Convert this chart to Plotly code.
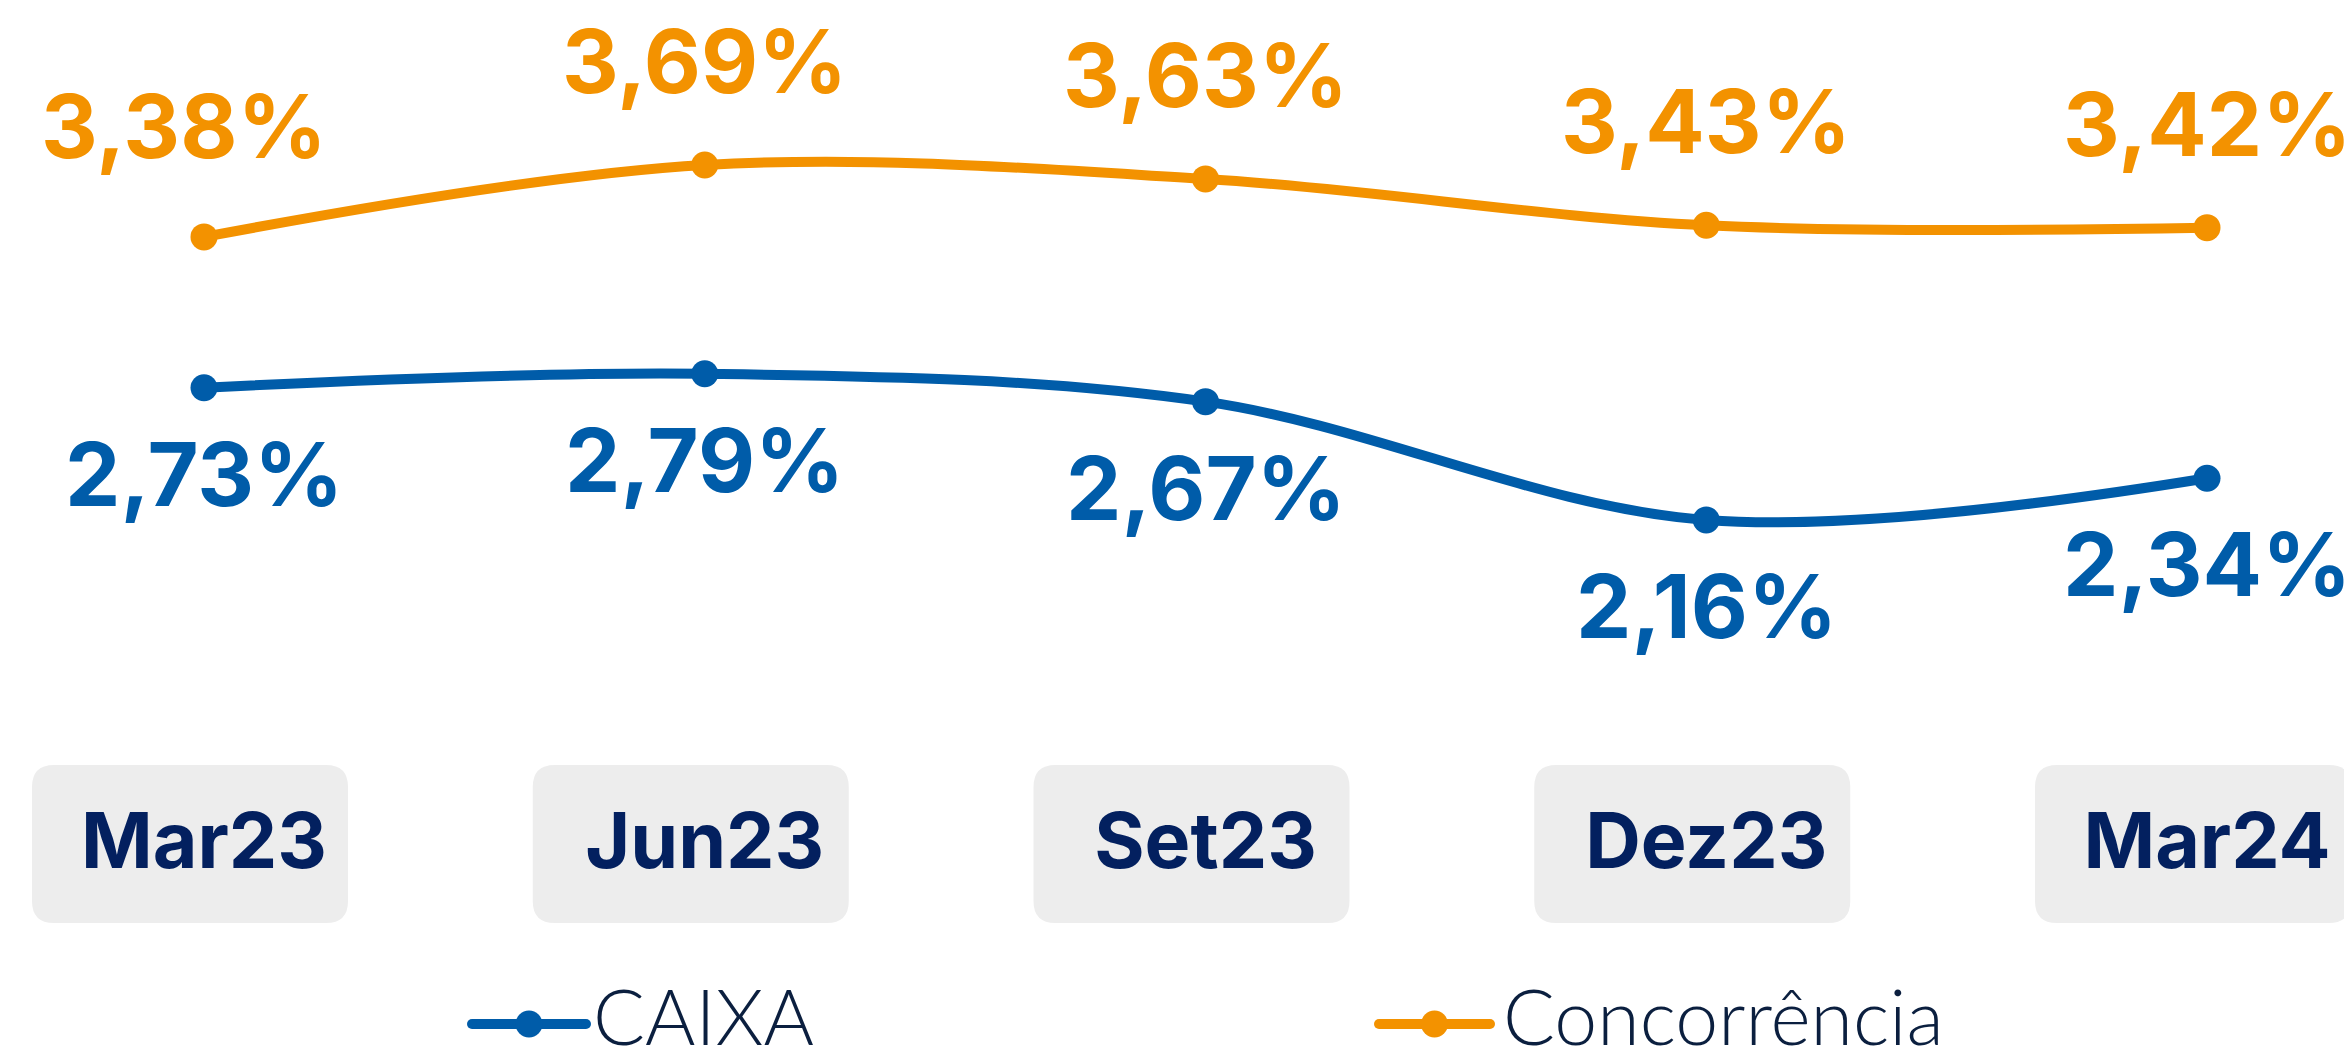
import plotly.graph_objects as go

categories = ["Mar23", "Jun23", "Set23", "Dez23", "Mar24"]
caixa = [2.73, 2.79, 2.67, 2.16, 2.34]
concorrencia = [3.38, 3.69, 3.63, 3.43, 3.42]
series_names = ["CAIXA", "Concorrência"]

BLUE = "#005CA9"
ORANGE = "#F39200"
NAVY = "#03205F"
LEGEND_TXT = "#0B1F3F"
BOX = "#EDEDED"

# page has an 8px body margin; figure fills the rest of the window
W, H = 2344, 1056
MB = 274
PH = H - MB  # plot height in px
X0 = 196       # pixel of first category
DX = 500.75    # pixels per category
Y_REF_V, Y_REF_P, K = 3.69, 157, 232  # value / pixel pair and px per unit


def py(p):
    return (PH - p) / PH


def fmt(v):
    return f"{v:.2f}".replace(".", ",") + "%"


idx = list(range(len(categories)))

fig = go.Figure()
fig.add_trace(go.Scatter(
    x=idx, y=concorrencia, name=series_names[1], mode="lines+markers",
    line=dict(color=ORANGE, width=10, shape="spline", smoothing=1),
    marker=dict(color=ORANGE, size=27), cliponaxis=False, showlegend=False))
fig.add_trace(go.Scatter(
    x=idx, y=caixa, name=series_names[0], mode="lines+markers",
    line=dict(color=BLUE, width=10, shape="spline", smoothing=1),
    marker=dict(color=BLUE, size=27), cliponaxis=False, showlegend=False))

annotations = []
for i, v in enumerate(concorrencia):
    annotations.append(dict(x=i, y=v, xref="x", yref="y", text=fmt(v), showarrow=False,
                            yshift=(111 if i == 0 else 104), xshift=(-20 if i == 0 else 0),
                            font=dict(family="Inter", size=88, color=ORANGE, weight="bold"),
                            xanchor="center", yanchor="middle"))
for i, v in enumerate(caixa):
    annotations.append(dict(x=i, y=v, xref="x", yref="y", text=fmt(v), showarrow=False,
                            yshift=-86,
                            font=dict(family="Inter", size=88, color=BLUE, weight="bold"),
                            xanchor="center", yanchor="middle"))

# category boxes (rounded rectangles anchored at each category)
r = 22
x0b, x1b, hb = -172, 144, 79
path = (f"M {x0b + r},{-hb} L {x1b - r},{-hb} Q {x1b},{-hb} {x1b},{-hb + r} "
        f"L {x1b},{hb - r} Q {x1b},{hb} {x1b - r},{hb} L {x0b + r},{hb} "
        f"Q {x0b},{hb} {x0b},{hb - r} L {x0b},{-hb + r} Q {x0b},{-hb} {x0b + r},{-hb} Z")
shapes = []
for i in idx:
    shapes.append(dict(type="path", xref="x", yref="paper", xsizemode="pixel", ysizemode="pixel",
                       xanchor=i, yanchor=py(836), path=path, fillcolor=BOX,
                       line=dict(width=0), layer="below"))

# manual legend
legend_items = [(series_names[0], BLUE, 464, 578, 583), (series_names[1], ORANGE, 1371, 1482, 1493)]
ly = 1016
for name, col, xs, xe, xt in legend_items:
    shapes.append(dict(type="line", xref="paper", yref="paper", x0=xs / W, x1=xe / W,
                       y0=py(ly), y1=py(ly), line=dict(color=col, width=10)))
    for xe_ in (xs, xe):
        shapes.append(dict(type="circle", xref="paper", yref="paper", xsizemode="pixel",
                           ysizemode="pixel", xanchor=xe_ / W, yanchor=py(ly),
                           x0=-5, x1=5, y0=-5, y1=5, fillcolor=col, line=dict(width=0)))
    xc = (xs + xe) / 2 / W
    shapes.append(dict(type="circle", xref="paper", yref="paper", xsizemode="pixel", ysizemode="pixel",
                       xanchor=xc, yanchor=py(ly), x0=-13.5, x1=13.5, y0=-13.5, y1=13.5,
                       fillcolor=col, line=dict(width=0)))
    annotations.append(dict(x=xt / W, y=py(1007), xref="paper", yref="paper", text=name,
                            showarrow=False, xanchor="left", yanchor="middle",
                            font=dict(family="Lato", size=77, color=LEGEND_TXT, weight=300)))

fig.update_layout(
    width=W, height=H,
    margin=dict(l=0, r=0, t=0, b=MB, pad=0),
    paper_bgcolor="white", plot_bgcolor="white",
    showlegend=False,
    xaxis=dict(range=[-X0 / DX, (W - X0) / DX], tickmode="array", tickvals=idx,
               ticktext=categories, showgrid=False, zeroline=False, showline=False,
               ticks="", ticklabelstandoff=0,
               tickfont=dict(family="Inter", size=77, color=NAVY, weight="bold")),
    yaxis=dict(range=[Y_REF_V - (PH - Y_REF_P) / K, Y_REF_V + Y_REF_P / K], visible=False,
               showgrid=False, zeroline=False),
    annotations=annotations,
    shapes=shapes,
)

fig.write_html("out.html")
